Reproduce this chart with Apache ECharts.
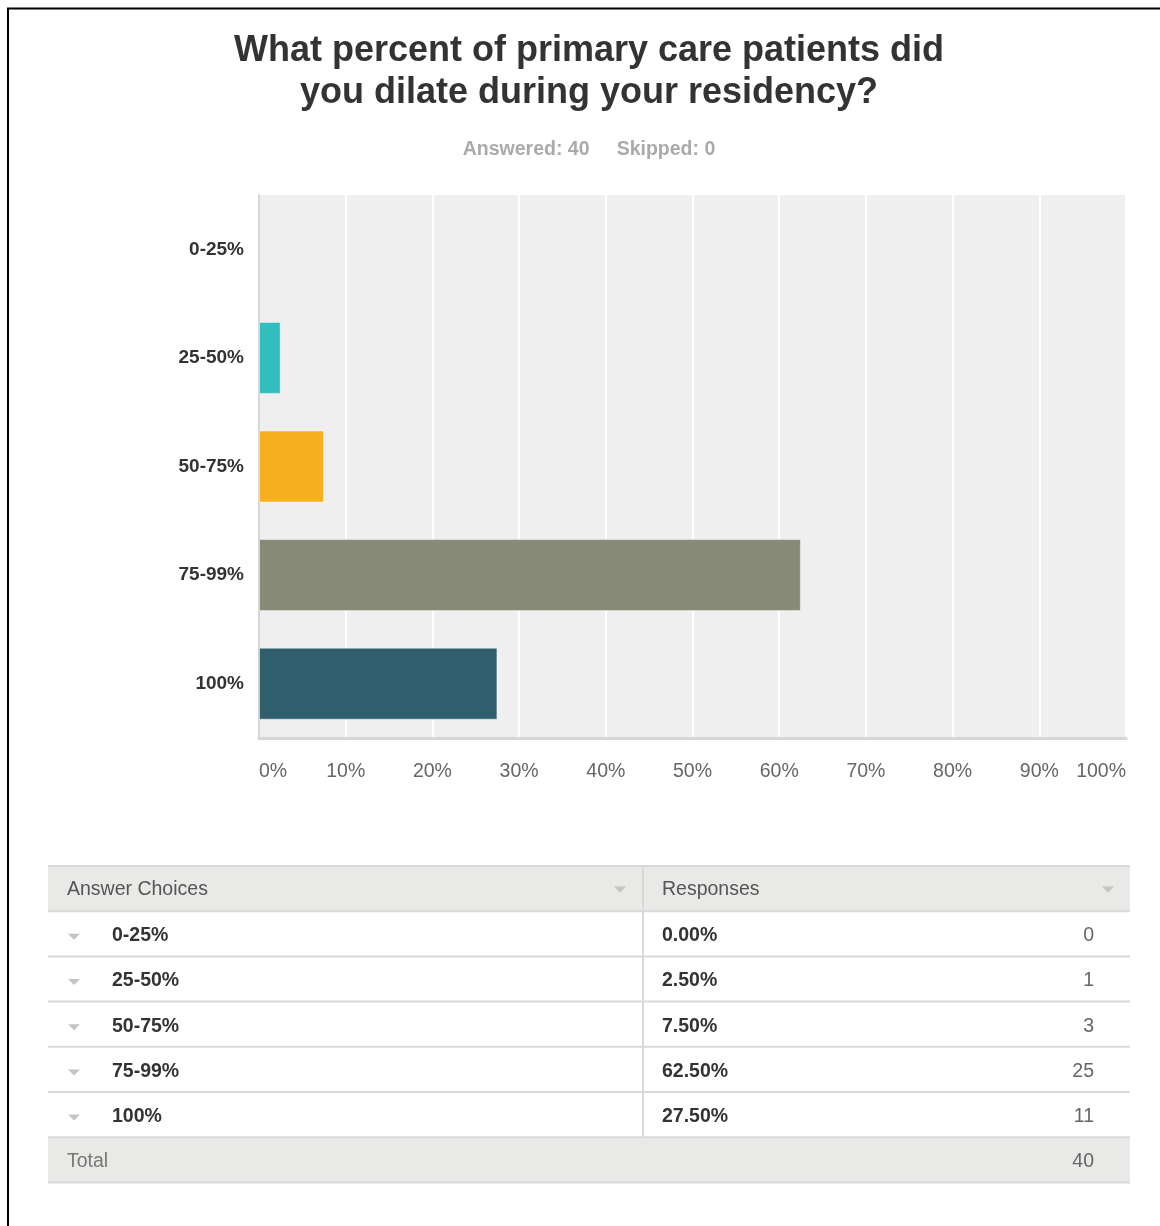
<!DOCTYPE html>
<html>
<head>
<meta charset="utf-8">
<title>Dilation survey</title>
<script src="https://cdn.jsdelivr.net/npm/echarts@6/dist/echarts.min.js"></script>
<style>
  html, body { margin: 0; padding: 0; background: #fff; }
  #chart { width: 1160px; height: 1226px; }
</style>
</head>
<body>
<div id="chart"></div>
<script>
// Survey answers
const categories = ['0-25%', '25-50%', '50-75%', '75-99%', '100%'];
const percents = [0, 2.5, 7.5, 62.5, 27.5];
const counts = [0, 1, 3, 25, 11];
const totalAnswered = 40;
const totalSkipped = 0;
const barColors = ['#2f5f6d', '#33bdbd', '#f6af1f', '#888a78', '#2f5f6d'];
const xTicks = [0, 10, 20, 30, 40, 50, 60, 70, 80, 90, 100];

const FONT = '"Liberation Sans", Arial, sans-serif';
const chart = echarts.init(document.getElementById('chart'), null, { renderer: 'canvas' });

// Results table below the bar chart
const tbl = { left: 48, right: 1130, top: 866, rowH: 45.2, divider: 643, countX: 1094 };
const TFS = 19.5;

function triangle(cx, cy, color) {
  return {
    type: 'polygon',
    shape: { points: [[cx - 6, cy - 3], [cx + 6, cy - 3], [cx, cy + 3]] },
    style: { fill: color }
  };
}
function hline(y) {
  return { type: 'line', shape: { x1: tbl.left, y1: y, x2: tbl.right, y2: y },
           style: { stroke: '#d9d9d9', lineWidth: 2 } };
}
function txt(x, y, s, opts) {
  return {
    type: 'text',
    style: Object.assign({ x: x, y: y, text: s, fontFamily: FONT, fontSize: TFS,
      verticalAlign: 'middle', align: 'left', fill: '#333' }, opts || {})
  };
}

const graphics = [];
const bodyTop = tbl.top + tbl.rowH;
const totalTop = bodyTop + categories.length * tbl.rowH;
// header and total backgrounds
graphics.push({ type: 'rect', shape: { x: tbl.left, y: tbl.top, width: tbl.right - tbl.left, height: tbl.rowH }, style: { fill: '#e9e9e7' } });
graphics.push({ type: 'rect', shape: { x: tbl.left, y: totalTop, width: tbl.right - tbl.left, height: tbl.rowH }, style: { fill: '#e9e9e7' } });
// row separators
for (let i = 0; i <= categories.length + 2; i++) graphics.push(hline(tbl.top + i * tbl.rowH));
// column divider
graphics.push({ type: 'line', shape: { x1: tbl.divider, y1: tbl.top, x2: tbl.divider, y2: totalTop },
                style: { stroke: '#d9d9d9', lineWidth: 2 } });
// header
const hy = tbl.top + tbl.rowH / 2 + 1;
graphics.push(txt(67, hy, 'Answer Choices', { fill: '#555' }));
graphics.push(txt(662, hy, 'Responses', { fill: '#555' }));
graphics.push(triangle(620, hy, '#c4c4c4'));
graphics.push(triangle(1108, hy, '#c4c4c4'));
// body rows
categories.forEach((c, i) => {
  const cy = bodyTop + i * tbl.rowH + tbl.rowH / 2 + 2;
  graphics.push(triangle(74, cy + 1, '#c4c4c4'));
  graphics.push(txt(112, cy, c, { fontWeight: 'bold' }));
  graphics.push(txt(662, cy, percents[i].toFixed(2) + '%', { fontWeight: 'bold' }));
  graphics.push(txt(tbl.countX, cy, String(counts[i]), { align: 'right', fill: '#666' }));
});
// total row
const ty = totalTop + tbl.rowH / 2 + 2;
graphics.push(txt(67, ty, 'Total', { fill: '#777' }));
graphics.push(txt(tbl.countX, ty, String(totalAnswered), { align: 'right', fill: '#666' }));
// page frame
graphics.push({ type: 'polyline', shape: { points: [[8, 1226], [8, 8.5], [1160, 8.5]] },
                style: { stroke: '#000', lineWidth: 2, fill: null } });

// bar items: empty bars get no outline so the axis line stays visible
const barData = percents.map((v, i) => ({
  value: v,
  itemStyle: {
    color: barColors[i],
    borderColor: 'rgba(255,255,255,0.45)',
    borderWidth: v > 0 ? 1 : 0
  }
}));

chart.setOption({
  animation: false,
  backgroundColor: '#fff',
  title: [
    {
      text: 'What percent of primary care patients did\nyou dilate during your residency?',
      left: 584, top: 25, textAlign: 'center',
      textStyle: { fontFamily: FONT, fontSize: 36, fontWeight: 'bold', color: '#333', lineHeight: 42 }
    },
    {
      text: 'Answered: ' + totalAnswered + '     Skipped: ' + totalSkipped,
      left: 584, top: 135, textAlign: 'center',
      textStyle: { fontFamily: FONT, fontSize: 19.5, fontWeight: 'bold', color: '#aaa' }
    }
  ],
  grid: {
    left: 259, right: 34, top: 195, height: 543,
    show: true, backgroundColor: '#efefef', borderWidth: 0
  },
  xAxis: {
    type: 'value', min: xTicks[0], max: xTicks[xTicks.length - 1], interval: 10,
    axisLine: { show: true, lineStyle: { color: '#d6d6d6', width: 3 } },
    axisTick: { show: false },
    splitLine: { show: true, lineStyle: { color: '#fff', width: 2 } },
    axisLabel: {
      formatter: '{value}%', color: '#666', fontFamily: FONT, fontSize: 19.5, margin: 24,
      alignMinLabel: 'left', alignMaxLabel: 'right'
    }
  },
  yAxis: {
    type: 'category', data: categories, inverse: true,
    axisLine: { show: true, lineStyle: { color: '#d6d6d6', width: 2 } },
    axisTick: { show: false },
    axisLabel: { color: '#333', fontFamily: FONT, fontSize: 19, fontWeight: 'bold', margin: 15 }
  },
  series: [{
    type: 'bar',
    data: barData,
    barWidth: 72
  }],
  graphic: graphics
});
</script>
</body>
</html>
